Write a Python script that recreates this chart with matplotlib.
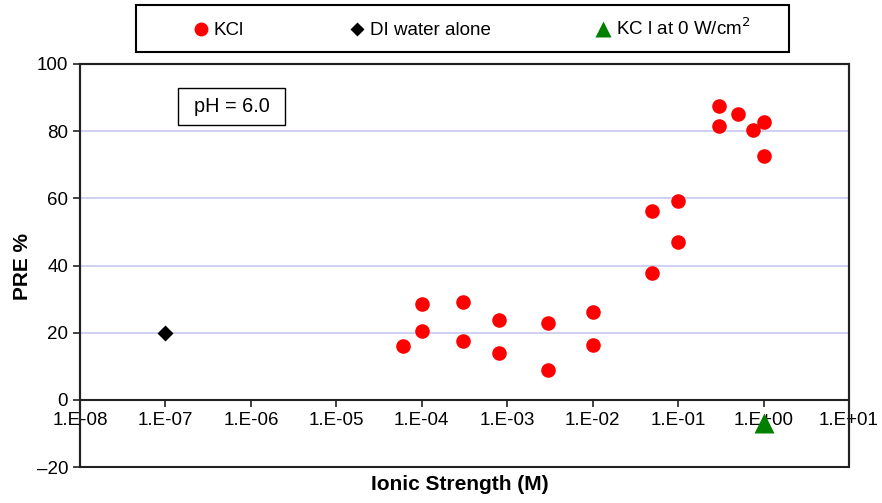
import matplotlib.pyplot as plt
from matplotlib.patches import Rectangle
from matplotlib.ticker import FixedLocator, NullLocator

plt.rcParams['font.family'] = ['Liberation Sans', 'DejaVu Sans']

# KCl runs: ionic strength (M) vs PRE %
kcl_conc = [6e-5, 1e-4, 1e-4, 3e-4, 3e-4, 8e-4, 8e-4, 3e-3, 3e-3, 1e-2, 1e-2,
            0.05, 0.05, 0.1, 0.1, 0.3, 0.3, 0.5, 0.75, 1.0, 1.0]
kcl_pre = [16.0, 28.5, 20.5, 29.1, 17.6, 23.7, 13.9, 22.8, 8.9, 26.3, 16.4,
           56.3, 37.8, 59.1, 47.0, 87.6, 81.6, 85.2, 80.3, 82.7, 72.5]

di_conc = [1e-7]
di_pre = [20.0]

zero_power_conc = [1.0]
zero_power_pre = [-7.0]

xticks = [1e-8, 1e-7, 1e-6, 1e-5, 1e-4, 1e-3, 1e-2, 1e-1, 1e0, 1e1]
xtick_labels = ['1.E-08', '1.E-07', '1.E-06', '1.E-05', '1.E-04', '1.E-03',
                '1.E-02', '1.E-01', '1.E+00', '1.E+01']
yticks = [-20, 0, 20, 40, 60, 80, 100]
ytick_labels = ['\u201320', '0', '20', '40', '60', '80', '100']

W, H = 882, 503
fig = plt.figure(figsize=(W / 100, H / 100), dpi=100)
ax = fig.add_axes([80 / W, 1 - 467 / H, 769 / W, 403 / H])

ax.set_xscale('log')
ax.set_xlim(1e-8, 1e1)
ax.set_ylim(-20, 100)

for y in [20, 40, 60, 80]:
    ax.axhline(y, color='#c8c8f2', lw=1.2, zorder=0)

h1, = ax.plot(kcl_conc, kcl_pre, 'o', color='#ff0000', ms=10.5, mec='none',
              label='KCl', zorder=3)
h2, = ax.plot(di_conc, di_pre, 'D', color='black', ms=8, mec='none',
              label='DI water alone', zorder=3)
h3, = ax.plot(zero_power_conc, zero_power_pre, '^', color='#008000', ms=15,
              mec='none', label='KC l at 0 W/cm$^2$', zorder=4, clip_on=False)

# x axis crosses at PRE = 0, frame drawn separately
ax.spines['bottom'].set_position(('data', 0))
for s in ax.spines.values():
    s.set_linewidth(1.5)
    s.set_color('#222222')
ax.add_patch(Rectangle((0, 0), 1, 1, transform=ax.transAxes, fill=False,
                       ec='#222222', lw=1.5, zorder=5, clip_on=False))

ax.xaxis.set_major_locator(FixedLocator(xticks))
ax.xaxis.set_minor_locator(NullLocator())
ax.set_xticklabels(xtick_labels)
ax.set_yticks(yticks)
ax.set_yticklabels(ytick_labels)
ax.tick_params(axis='both', direction='out', length=5, width=1.2,
               labelsize=13.5, color='#222222')
ax.tick_params(axis='x', pad=4)

fig.text(22 / W, 1 - 267 / H, 'PRE %', rotation=90, fontsize=15,
         fontweight='bold', ha='center', va='center')
fig.text(459.5 / W, 1 - 485 / H, 'Ionic Strength (M)', fontsize=15,
         fontweight='bold', ha='center', va='center')

# pH annotation box
ax.add_patch(Rectangle((98 / 769, 342 / 403), 107 / 769, 37 / 403,
                       transform=ax.transAxes, fc='white', ec='black', lw=1,
                       zorder=6))
ax.text(151.5 / 769, 360.7 / 403, 'pH = 6.0', transform=ax.transAxes,
        fontsize=14.3, ha='center', va='center', zorder=7)

# legend above the plot, with a wide frame of its own
fig.patches.append(Rectangle((136 / W, 1 - 52 / H), 653 / W, 47 / H,
                             transform=fig.transFigure, fill=False,
                             ec='black', lw=1.5))
leg = fig.legend(handles=[h1, h2, h3], loc='center',
                 bbox_to_anchor=(470 / W, 1 - 28.5 / H), ncol=3,
                 fontsize=13.5, frameon=False, handletextpad=0.1,
                 columnspacing=5.4, handlelength=1.2, numpoints=1)
for h, ms in zip(leg.legend_handles, [10, 7, 11]):
    h.set_markersize(ms)

fig.savefig('out.png', dpi=100)
